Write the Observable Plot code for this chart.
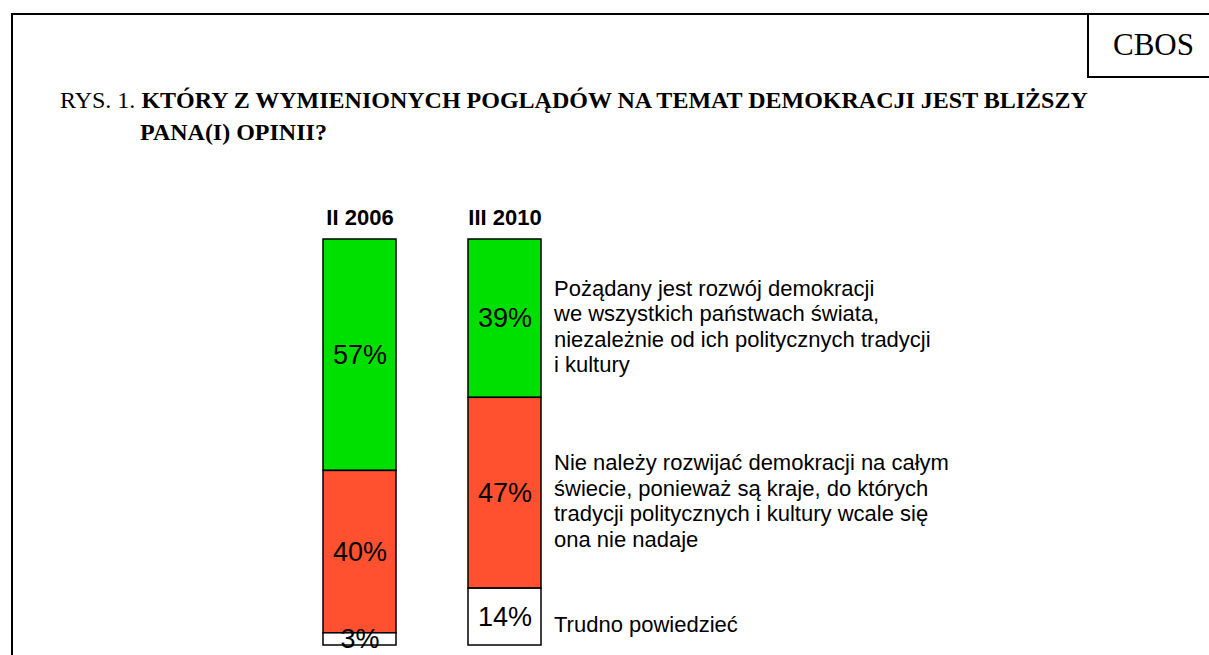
<!DOCTYPE html>
<html>
<head>
<meta charset="utf-8">
<script src="https://cdn.jsdelivr.net/npm/d3@7"></script>
<script src="https://cdn.jsdelivr.net/npm/@observablehq/plot@0.6"></script>
<style>
  html, body { margin: 0; padding: 0; background: #fff; }
  #wrap { position: relative; width: 1209px; height: 655px; overflow: hidden; background: #fff; }
  #frame { position: absolute; left: 11px; top: 13px; width: 1400px; height: 900px; border-left: 2px solid #000; border-top: 2px solid #000; }
  #cbos { position: absolute; left: 1087px; top: 13px; width: 200px; height: 65px; border-left: 2px solid #000; border-bottom: 2px solid #000;
          font-family: "Liberation Serif", "Times New Roman", serif; font-size: 31px; line-height: 63px; padding-left: 24px; box-sizing: border-box; color: #000; }
  #title { position: absolute; left: 60px; top: 84px; width: 1100px; padding-left: 80px; text-indent: -80px; box-sizing: border-box; white-space: nowrap;
           font-family: "Liberation Serif", "Times New Roman", serif; font-size: 24px; line-height: 32px; color: #000; }
  #title b { font-weight: bold; }
  #chart { position: absolute; left: 0; top: 0; }
</style>
</head>
<body>
<div id="wrap">
  <div id="frame"></div>
  <div id="cbos">CBOS</div>
  <div id="title">RYS. 1. <b>KTÓRY Z WYMIENIONYCH POGLĄDÓW NA TEMAT DEMOKRACJI JEST BLIŻSZY<br>PANA(I) OPINII?</b></div>
  <div id="chart"></div>
</div>
<script>
const periods = ["II 2006", "III 2010"];
const answers = [
  "Pożądany jest rozwój demokracji\nwe wszystkich państwach świata,\nniezależnie od ich politycznych tradycji\ni kultury",
  "Nie należy rozwijać demokracji na całym\nświecie, ponieważ są kraje, do których\ntradycji politycznych i kultury wcale się\nona nie nadaje",
  "Trudno powiedzieć"
];
const values2006 = [57, 40, 3];
const values2010 = [39, 47, 14];
const answerColors = ["#00E000", "#FF5030", "#FFFFFF"];

const rows = [];
answers.forEach((a, i) => rows.push({period: periods[0], answer: a, value: values2006[i]}));
answers.forEach((a, i) => rows.push({period: periods[1], answer: a, value: values2010[i]}));
const rows2010 = rows.filter(d => d.period === periods[1]);

const chart = Plot.plot({
  width: 1209,
  height: 655,
  marginTop: 239,
  marginBottom: 10,
  marginLeft: 0,
  marginRight: 0,
  style: {background: "transparent", overflow: "visible", fontFamily: "'Liberation Sans', Arial, sans-serif", color: "#000"},
  x: {domain: periods, range: [250.5, 613], padding: 0.5},
  y: {domain: [0, 100], reverse: true, axis: null},
  color: {domain: answers, range: answerColors},
  marks: [
    Plot.barY(rows, Plot.stackY({x: "period", y: "value", fill: "answer", order: null, stroke: "#000", strokeWidth: 1.5})),
    Plot.text(rows, Plot.stackY({x: "period", y: "value", order: null, text: d => d.value + "%", fontSize: 27, fill: "#000"})),
    Plot.text(rows2010, Plot.stackY({x: "period", y: "value", order: null, text: "answer", textAnchor: "start", dx: 49, dy: 7, fontSize: 22, lineHeight: 1.16, fill: "#000"})),
    Plot.axisX({anchor: "top", tickSize: 0, tickPadding: 15, fontSize: 22, fontWeight: "bold", label: null})
  ]
});
document.getElementById("chart").appendChild(chart);
</script>
</body>
</html>
